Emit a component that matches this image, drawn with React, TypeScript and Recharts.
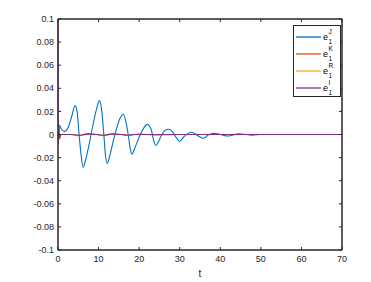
import React from 'react';
import { LineChart, Line, XAxis, YAxis, ReferenceArea } from 'recharts';

// e_1^J (blue)
const tJ = [0, 0.3, 0.8, 1.6, 2.5, 3.4, 4.2, 4.7, 5.2, 5.7, 6.2, 6.8, 7.7, 8.6, 9.5, 10.2, 10.8, 11.3, 11.7, 12.1, 12.8, 13.6, 14.5, 15.3, 16.1, 16.8, 17.3, 17.8, 18.2, 18.9, 19.8, 20.7, 22, 23, 23.5, 24.1, 24.8, 25.6, 27.2, 28.5, 29.2, 30, 31, 32.9, 34.5, 35.8, 37, 38.3, 40, 41.9, 44.5, 48, 50, 70];
const eJ = [-0.003, 0.008, 0.005, 0.0025, 0.006, 0.016, 0.025, 0.02, 0.0, -0.018, -0.0285, -0.022, -0.008, 0.008, 0.022, 0.0293, 0.02, 0.0, -0.018, -0.025, -0.018, -0.006, 0.006, 0.014, 0.0175, 0.01, 0.0, -0.012, -0.017, -0.012, -0.004, 0.003, 0.0088, 0.004, -0.004, -0.0095, -0.006, 0.0, 0.0045, 0.001, -0.003, -0.006, -0.002, 0.002, -0.001, -0.0033, -0.0005, 0.001, 0.0, -0.0013, 0.0005, -0.0005, 0.0, 0.0];

// e_1^K (red)
const tK = [0, 0.15, 0.35, 0.8, 3, 5.2, 7.5, 11.3, 13.5, 17.2, 20, 23.5, 30, 70];
const eK = [0.0, 0.007, -0.004, 0.0, 0.0, -0.0008, 0.0008, -0.0008, 0.0006, -0.0006, 0.0003, -0.0003, 0.0, 0.0];

// e_1^R (yellow)
const tR = [0, 0.3, 3.5, 5.2, 7, 9.8, 11.3, 12.8, 15.8, 17.2, 18.6, 30, 70];
const eR = [0.0, 0.0, 0.0, -0.0012, 0.0, 0.0, -0.0012, 0.0, 0.0, -0.001, 0.0, 0.0, 0.0];

// e_1^I (purple) — starts at the top of the axes
const tI = [0, 0.08, 0.2, 0.35, 0.6, 3.5, 5.2, 7, 9.8, 11.3, 12.8, 15.8, 17.2, 18.6, 30, 70];
const eI = [0.1, -0.008, 0.008, -0.003, 0.0, 0.0, -0.0008, 0.0003, 0.0, -0.0008, 0.0003, 0.0, -0.0006, 0.0, 0.0, 0.0];

const xTicks = [0, 10, 20, 30, 40, 50, 60, 70];
const yTicks = [-0.1, -0.08, -0.06, -0.04, -0.02, 0, 0.02, 0.04, 0.06, 0.08, 0.1];
const yTickLabels = ['-0.1', '-0.08', '-0.06', '-0.04', '-0.02', '0', '0.02', '0.04', '0.06', '0.08', '0.1'];

const seriesNames = ['J', 'K', 'R', 'I'];
const colors = ['#0072BD', '#D95319', '#EDB120', '#7E2F8E'];

const X_MAX = 70;
const Y_MAX = 0.1;

// chart geometry
const W = 371;
const H = 282;
const M = { top: 19, right: 29, bottom: 0, left: 0 };
const Y_AXIS_W = 58;
const X_AXIS_H = 32;
const PLOT_L = M.left + Y_AXIS_W;
const PLOT_T = M.top;
const PLOT_R = W - M.right;
const PLOT_B = H - M.bottom - X_AXIS_H;

const toData = (ts: number[], vs: number[]) => ts.map((t, i) => ({ t, v: vs[i] }));

const allData = [toData(tJ, eJ), toData(tK, eK), toData(tR, eR), toData(tI, eI)];

const FONT = '"Liberation Sans", Arial, Helvetica, sans-serif';
const AX = '#262626';

const yFmt = (v: number) => {
  const i = yTicks.findIndex((y) => Math.abs(y - v) < 1e-9);
  return i >= 0 ? yTickLabels[i] : String(v);
};

const px = (t: number) => PLOT_L + (t / X_MAX) * (PLOT_R - PLOT_L);
const py = (y: number) => PLOT_T + ((Y_MAX - y) / (2 * Y_MAX)) * (PLOT_B - PLOT_T);

// top / right edges of the axes box with inward ticks
const BoxFrame = () => (
  <svg
    width={W}
    height={H}
    style={{ position: 'absolute', left: 0, top: 0, zIndex: 5, pointerEvents: 'none', overflow: 'visible' }}
  >
    <line x1={PLOT_L} x2={PLOT_R + 0.5} y1={PLOT_T} y2={PLOT_T} stroke={AX} strokeWidth={1} />
    <line x1={PLOT_R} x2={PLOT_R} y1={PLOT_T} y2={PLOT_B} stroke={AX} strokeWidth={1} />
    {xTicks.map((t) => (
      <line key={`tx${t}`} x1={px(t)} x2={px(t)} y1={PLOT_T} y2={PLOT_T + 3} stroke={AX} strokeWidth={1} />
    ))}
    {yTicks.map((y) => (
      <line key={`ty${y}`} x1={PLOT_R - 3} x2={PLOT_R} y1={py(y)} y2={py(y)} stroke={AX} strokeWidth={1} />
    ))}
  </svg>
);

const LegendBox = () => (
  <div
    style={{
      position: 'absolute',
      left: 293,
      top: 25,
      width: 48,
      height: 72,
      border: `1px solid ${AX}`,
      background: '#fff',
      boxSizing: 'border-box',
      fontFamily: FONT,
      color: '#000',
      paddingTop: 2,
      zIndex: 6,
    }}
  >
    {seriesNames.map((n, i) => (
      <div key={n} style={{ display: 'flex', alignItems: 'center', height: 17 }}>
        <svg width={27} height={4} style={{ flex: 'none', display: 'block' }}>
          <line x1={2} x2={27} y1={2} y2={2} stroke={colors[i]} strokeWidth={1.3} />
        </svg>
        <span style={{ marginLeft: 2, position: 'relative', display: 'inline-block', width: 14, height: 17 }}>
          <span style={{ position: 'absolute', left: 0, top: 4, fontSize: 9, lineHeight: '10px' }}>e</span>
          <span style={{ position: 'absolute', left: 5.5, top: 0, fontSize: 6.5, lineHeight: '7px' }}>{n}</span>
          <span style={{ position: 'absolute', left: 5.5, top: 10, fontSize: 6.5, lineHeight: '7px' }}>1</span>
        </span>
      </div>
    ))}
  </div>
);

export default function App() {
  return (
    <div style={{ position: 'absolute', left: 0, top: 0, width: W, height: H, background: '#fff' }}>
      <LineChart width={W} height={H} margin={M}>
        <XAxis
          type="number"
          dataKey="t"
          domain={[0, X_MAX]}
          ticks={xTicks}
          height={X_AXIS_H}
          stroke={AX}
          tickSize={-3}
          tickMargin={9}
          tick={{ fill: AX, fontSize: 9, fontFamily: FONT }}
          label={{ value: 't', position: 'insideBottom', offset: 5, fill: AX, fontSize: 10, fontFamily: FONT }}
        />
        <YAxis
          type="number"
          domain={[-Y_MAX, Y_MAX]}
          ticks={yTicks}
          width={Y_AXIS_W}
          stroke={AX}
          tickSize={-3}
          tickMargin={7}
          tickFormatter={yFmt}
          tick={{ fill: AX, fontSize: 9, fontFamily: FONT }}
        />
        <ReferenceArea
          x1={0}
          x2={X_MAX}
          y1={-Y_MAX}
          y2={Y_MAX}
          fill="none"
          fillOpacity={0}
          stroke={AX}
          strokeWidth={1}
          strokeOpacity={1}
          ifOverflow="visible"
        />
        {allData.map((d, i) => (
          <Line
            key={seriesNames[i]}
            data={d}
            dataKey="v"
            name={`e1${seriesNames[i]}`}
            type="monotone"
            stroke={colors[i]}
            strokeWidth={1.1}
            dot={false}
            isAnimationActive={false}
          />
        ))}
      </LineChart>
      <BoxFrame />
      <LegendBox />
    </div>
  );
}
